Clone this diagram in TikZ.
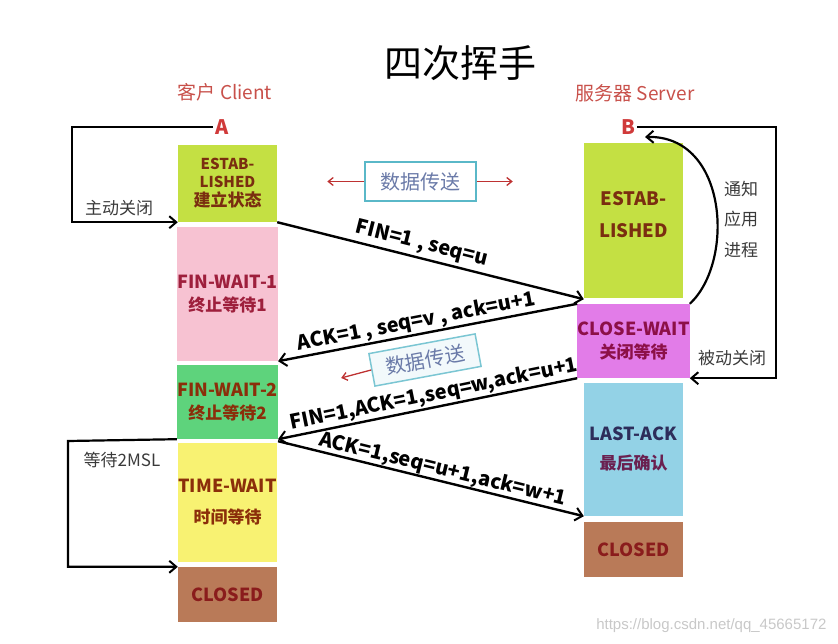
\documentclass[tikz,border=0pt]{standalone}
\usepackage{fontspec}
\setmainfont{Noto Sans CJK SC}
\newfontfamily\wmfont{Liberation Sans}
\usetikzlibrary{arrows.meta,calc}
\definecolor{cEst}{RGB}{196,224,67}
\definecolor{cPink}{RGB}{247,194,210}
\definecolor{cFwTwo}{RGB}{94,211,124}
\definecolor{cYel}{RGB}{248,242,114}
\definecolor{cBrown}{RGB}{185,122,88}
\definecolor{cMag}{RGB}{226,124,232}
\definecolor{cLBlue}{RGB}{147,210,230}
\definecolor{tEst}{RGB}{122,46,16}
\definecolor{tFin}{RGB}{158,31,60}
\definecolor{tTime}{RGB}{139,46,10}
\definecolor{tClosed}{RGB}{138,28,28}
\definecolor{tCW}{RGB}{140,16,72}
\definecolor{tLA}{RGB}{45,45,90}
\definecolor{tLAzh}{RGB}{106,32,80}
\definecolor{cRed}{RGB}{208,58,58}
\definecolor{cHead}{RGB}{200,80,74}
\definecolor{cGray}{RGB}{58,58,58}
\definecolor{cBoxB}{RGB}{90,184,200}
\definecolor{cBoxT}{RGB}{106,122,168}
\definecolor{cArrR}{RGB}{190,50,50}
\definecolor{cWm}{RGB}{200,200,200}
\tikzset{
  stbox/.style={draw=none, inner sep=0pt, minimum width=99pt, align=center, font=\fontsize{18}{23}\selectfont\bfseries},
  msg/.style={line width=2.4pt, -{Straight Barb[length=7pt,width=13pt,line width=2pt]}},
  loopline/.style={line width=2.2pt, -{Straight Barb[length=7pt,width=12pt,line width=2pt]}},
  lbl/.style={font=\fontsize{20}{22}\selectfont\bfseries, sloped, above, inner sep=1pt},
  graylbl/.style={font=\fontsize{17}{19}\selectfont, text=cGray, inner sep=0pt},
  databox/.style={draw=cBoxB, line width=1.5pt, minimum width=111pt, minimum height=39pt, text=cBoxT, font=\fontsize{20}{22}\selectfont},
  redarr/.style={draw=cArrR, line width=1.3pt, -{Straight Barb[length=5pt,width=8pt]}}
}
\newcommand{\zhsz}{\fontsize{17}{20}\selectfont}
\begin{document}
\begin{tikzpicture}[x=1pt,y=-1pt]
\useasboundingbox (0,0) rectangle (838,644);
% title and headers
\node[font=\fontsize{38}{42}\selectfont] (title) at (460,63) {四次挥手};
\node[font=\fontsize{19}{21}\selectfont, text=cHead] (hc) at (225,92) {客户 Client};
\node[font=\fontsize{19}{21}\selectfont, text=cHead] (hs) at (635,93) {服务器 Server};
\node[font=\fontsize{20}{22}\selectfont\bfseries, text=cRed, inner sep=2pt] (A) at (222,127) {A};
\node[font=\fontsize{20}{22}\selectfont\bfseries, text=cRed, inner sep=2pt] (B) at (628,127) {B};
% left column
\node[stbox, fill=cEst, minimum height=77pt, text=tEst, font=\fontsize{15}{18}\selectfont\bfseries] (le) at (227.5,183.5)
  {ESTAB-\\LISHED\\[1pt]\zhsz 建立状态};
\node[stbox, fill=cPink, minimum height=134pt, text=tFin] (lf1) at (227.5,294)
  {FIN-WAIT-1\\{\zhsz 终止等待1}};
\node[stbox, fill=cFwTwo, minimum height=74pt, text=tTime] (lf2) at (227.5,402)
  {FIN-WAIT-2\\{\zhsz 终止等待2}};
\node[stbox, fill=cYel, minimum height=119pt, text=tTime] (lt) at (227.5,502.5)
  {TIME-WAIT\\[8pt]{\zhsz 时间等待}};
\node[stbox, fill=cBrown, minimum height=55pt, text=tClosed] (lc) at (227.5,594.5) {CLOSED};
% right column
\node[stbox, fill=cEst, minimum height=155pt,
  label={[font=\fontsize{18.5}{32}\selectfont\bfseries, text=tEst, align=center, yshift=6pt]center:ESTAB-\\LISHED}] (re) at (633.5,220.5) {};
\node[stbox, fill=cMag, minimum height=74pt, text=tCW] (rc) at (633.5,341)
  {CLOSE-WAIT\\{\zhsz 关闭等待}};
\node[stbox, fill=cLBlue, minimum height=133pt, text=tLA] (rl) at (633.5,449.5)
  {LAST-ACK\\[6pt]{\zhsz\color{tLAzh} 最后确认}};
\node[stbox, fill=cBrown, minimum height=55pt, text=tClosed] (rcl) at (633.5,549.5) {CLOSED};
% data transfer boxes
\node[databox] (d1) at (420.5,181.5) {数据传送};
\draw[redarr] (d1.west) -- ++(-37,0) coordinate (d1l);
\draw[redarr] (d1.east) -- ++(36,0) coordinate (d1r);
\node[databox, draw=cBoxB!80, fill=cBoxB!8, rotate=10.5, minimum width=108pt, minimum height=33pt] (d2) at (425,360) {数据传送};
\draw[redarr] (d2.west) -- ++(-30,8) coordinate (d2l);
% messages
\draw[msg] (le.south east) -- node[lbl, pos=0.46, inner sep=3pt] {FIN=1 , seq=u} ($(re.south west)+(0,1)$);
\draw[msg] (rc.north west) -- node[lbl, pos=0.53] {ACK=1 , seq=v , ack=u+1} (lf1.south east);
\draw[msg] (rc.south west) -- node[lbl, pos=0.47] {FIN=1,ACK=1,seq=w,ack=u+1} (lf2.south east);
\draw[msg] ($(lf2.south east)+(0,2)$) -- node[lbl, inner sep=0pt, pos=0.53] {ACK=1,seq=u+1,ack=w+1} (rl.south west);
% client active close loop
\coordinate (al) at (72,127);
\draw[loopline] (A.west) -- (al) |- (le.south west);
\node[graylbl] (zd) at (119,208) {主动关闭};
% server passive close loop
\coordinate (br) at (776,127);
\draw[loopline] (B.east) -- (br) |- (rc.south east);
\node[graylbl] (bd) at (732,358) {被动关闭};
% notify app curve
\coordinate (bt) at (645,137);
\draw[loopline] (rc.north east) .. controls (735,262) and (728,135) .. (bt);
\node[graylbl] (n1) at (741,189) {通知};
\node[graylbl] (n2) at (741,219) {应用};
\node[graylbl] (n3) at (741,250) {进程};
% wait 2MSL loop
\coordinate (wl) at (68,441);
\draw[loopline] (lf2.south west) -- (wl) |- (lc.north west);
\node[graylbl] (w2) at (122,460) {等待2MSL};
% watermark
\node[font=\wmfont\fontsize{15}{18}\selectfont, text=cWm, anchor=east] (wm) at (830,626) {https://blog.csdn.net/qq\_45665172};
\end{tikzpicture}
\end{document}
